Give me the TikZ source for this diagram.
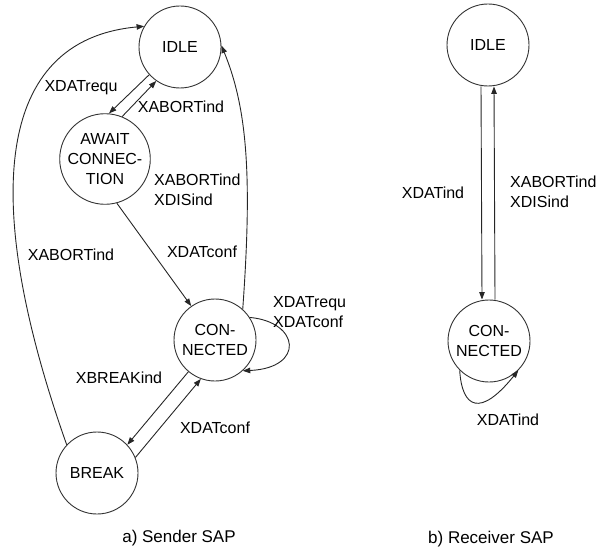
\documentclass[tikz,border=0pt]{standalone}
\usepackage{fontspec}
\setmainfont{Liberation Sans}
\usetikzlibrary{arrows.meta}
\newcommand\lblfont{\fontsize{16}{20}\selectfont}
\begin{document}
\begin{tikzpicture}[x=1pt,y=-1pt,
  state/.style={circle, draw=black!80, line width=0.9pt, minimum size=82pt,
    inner sep=0pt, align=center, font=\lblfont, text=black},
  tr/.style={-{Triangle[length=7.5pt,width=5.5pt]}, line width=0.9pt, draw=black!85},
  lbl/.style={font=\lblfont, text=black, inner sep=0pt},
  lbll/.style={lbl, align=left, anchor=west},
  caption/.style={font=\fontsize{17}{20}\selectfont, text=black, inner sep=0pt}]
\useasboundingbox (0,0) rectangle (601,548);

% ---- a) sender SAP ----
\node[state] (sIdle)  at (180,47)  {IDLE};
\node[state] (sAwait) at (105,159) {AWAIT\\CONNEC-\\TION};
\node[state] (sConn)  at (215,340) {CON-\\NECTED};
\node[state] (sBreak) at (97,473)  {BREAK};

\draw[tr] (sIdle.222) -- (sAwait.85);
\draw[tr] (sAwait.68) -- (sIdle.235);
\draw[tr] (sAwait.-75) -- (sConn.125);
\draw[tr] (sConn.48) .. controls (252,180) and (248,110) .. (sIdle.2);
\draw[tr] (sBreak.137) .. controls (-20,200) and (-5,40) .. (sIdle.150);
\draw[tr] (sConn.33) .. controls (300,322) and (305,368) .. (sConn.-48);
\draw[tr] (sConn.230) -- (sBreak.43);
\draw[tr] (sBreak.22) -- (sConn.250);

\node[lbl]  (l1) at (81,88)   {XDATrequ};
\node[lbl]  (l2) at (181,107) {XABORTind};
\node[lbll] (l3) at (154,190) {XABORTind\\XDISind};
\node[lbl]  (l4) at (202,252) {XDATconf};
\node[lbl]  (l5) at (71,255)  {XABORTind};
\node[lbll] (l6) at (273,312) {XDATrequ\\XDATconf};
\node[lbl]  (l7) at (119,378) {XBREAKind};
\node[lbl]  (l8) at (215,428) {XDATconf};
\node[caption] (ca) at (179,538) {a) Sender SAP};

% ---- b) receiver SAP ----
\node[state] (rIdle) at (488,45)  {IDLE};
\node[state] (rConn) at (489,341) {CON-\\NECTED};

\draw[tr] ([xshift=-7pt]rIdle.south) -- ([xshift=-7pt]rConn.north);
\draw[tr] ([xshift=6pt]rConn.north) -- ([xshift=6pt]rIdle.south);
\draw[tr] (rConn.225) .. controls (462,408) and (480,418) .. (rConn.-45);

\node[lbl]  (r1) at (433,193) {XDATind};
\node[lbll] (r2) at (510,192) {XABORTind\\XDISind};
\node[lbl]  (r3) at (508,420) {XDATind};
\node[caption] (cb) at (491,539) {b) Receiver SAP};
\end{tikzpicture}
\end{document}
